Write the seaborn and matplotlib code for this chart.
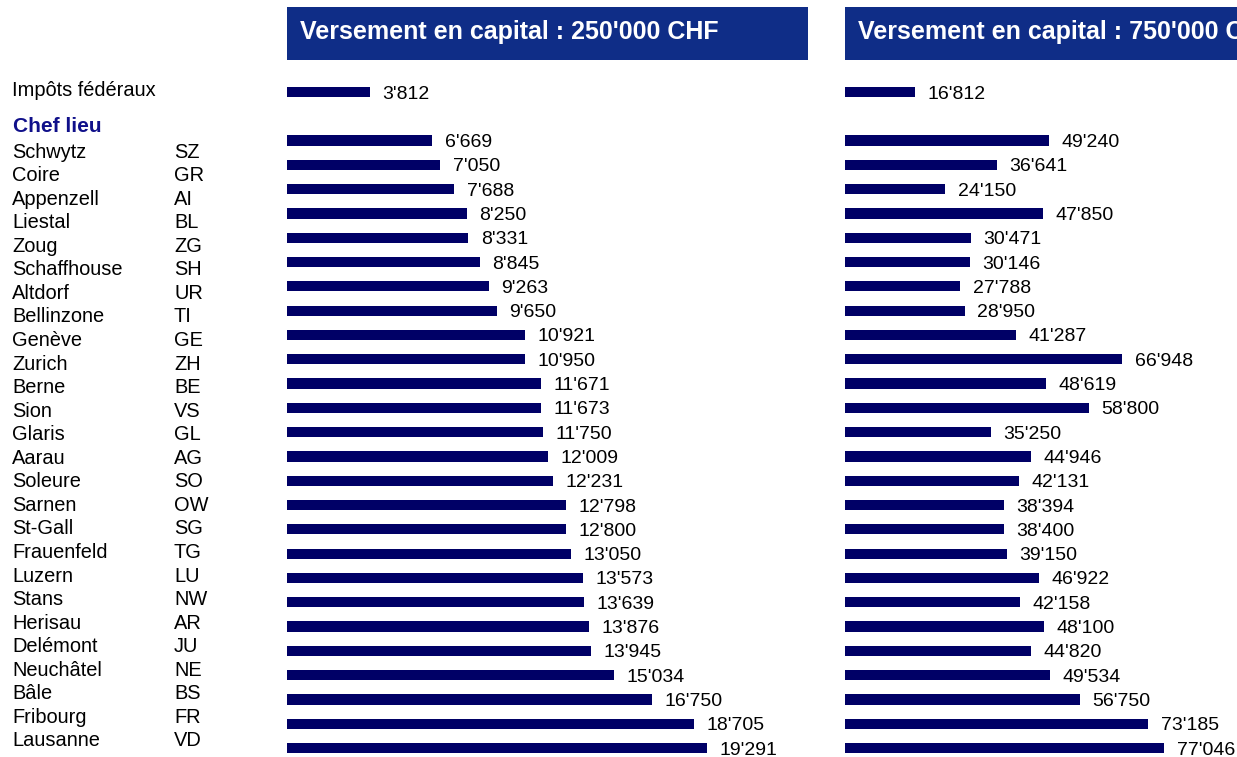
import numpy as np
import pandas as pd
import matplotlib
matplotlib.use("Agg")
import matplotlib.pyplot as plt
import seaborn as sns

# ==========================================================
# 1. DONNÉES
# ==========================================================
villes = ["Schwytz", "Coire", "Appenzell", "Liestal", "Zoug", "Schaffhouse",
          "Altdorf", "Bellinzone", "Genève", "Zurich", "Berne", "Sion", "Glaris",
          "Aarau", "Soleure", "Sarnen", "St-Gall", "Frauenfeld", "Luzern", "Stans",
          "Herisau", "Delémont", "Neuchâtel", "Bâle", "Fribourg", "Lausanne"]
cantons = ["SZ", "GR", "AI", "BL", "ZG", "SH", "UR", "TI", "GE", "ZH", "BE", "VS",
           "GL", "AG", "SO", "OW", "SG", "TG", "LU", "NW", "AR", "JU", "NE", "BS",
           "FR", "VD"]

federal_250 = 3812
federal_750 = 16812

impots_250 = [6669, 7050, 7688, 8250, 8331, 8845, 9263, 9650, 10921, 10950, 11671,
              11673, 11750, 12009, 12231, 12798, 12800, 13050, 13573, 13639, 13876,
              13945, 15034, 16750, 18705, 19291]
impots_750 = [49240, 36641, 24150, 47850, 30471, 30146, 27788, 28950, 41287, 66948,
              48619, 58800, 35250, 44946, 42131, 38394, 38400, 39150, 46922, 42158,
              48100, 44820, 49534, 56750, 73185, 77046]

titres = ["Versement en capital : 250'000 CHF", "Versement en capital : 750'000 CHF"]

# ==========================================================
# 2. STYLE
# ==========================================================
sns.set_theme(style="white")
plt.rcParams["font.family"] = ["Liberation Sans", "DejaVu Sans"]
plt.rcParams["text.color"] = "black"

COULEUR_BARRE = "#000066"
COULEUR_ENTETE = "#0F2D87"
COULEUR_CHEF = "#10108A"

W, H = 1237, 757
fig = plt.figure(figsize=(W / 100, H / 100), dpi=100)


def fx(px):
    return px / W


def fy(py):
    return 1 - py / H


# ==========================================================
# 3. LIBELLÉS À GAUCHE
# ==========================================================
fig.text(fx(12), fy(89), "Impôts fédéraux", fontsize=14.4, va="center_baseline", ha="left")
fig.text(fx(13), fy(125), "Chef lieu", fontsize=15, fontweight="bold",
         color=COULEUR_CHEF, va="center_baseline", ha="left")
pas = (739 - 150) / (len(villes) - 1)
for i, (v, c) in enumerate(zip(villes, cantons)):
    y = 150 + i * pas
    fig.text(fx(12), fy(y), v, fontsize=14.4, va="center_baseline", ha="left")
    fig.text(fx(174), fy(y), c, fontsize=14.4, va="center_baseline", ha="left")

# ==========================================================
# 4. PANNEAUX
# ==========================================================
ordre = ["Impôts fédéraux", " "] + villes
panneaux = [
    (287, 23930, [federal_250] + impots_250),
    (845, 125800, [federal_750] + impots_750),
]

for (x0, xmax, valeurs), titre in zip(panneaux, titres):
    df = pd.DataFrame({"lieu": ["Impôts fédéraux"] + villes, "valeur": valeurs})

    # position des barres : ligne 0 à y=92 px, pas de 24.3 px
    pas_b = (748 - 92) / 27
    haut, bas = 70, 757
    ax = fig.add_axes([fx(x0), fy(bas), 521 / W, (bas - haut) / H])
    sns.barplot(data=df, x="valeur", y="lieu", order=ordre, orient="h",
                color=COULEUR_BARRE, saturation=1, width=0.42, linewidth=0, ax=ax)
    ax.set_ylim((bas - 92) / pas_b, (haut - 92) / pas_b)
    ax.set_xlim(0, xmax)
    for cont in ax.containers:
        txts = ax.bar_label(cont, labels=[f"{v:,}".replace(",", "'") for v in valeurs],
                            padding=9, fontsize=14, color="black")
        for t in txts:
            t.set_va("center_baseline")
    ax.axis("off")

    # entête
    ah = fig.add_axes([fx(x0), fy(60), 521 / W, 53 / H])
    ah.set_facecolor(COULEUR_ENTETE)
    ah.set_xticks([])
    ah.set_yticks([])
    for s in ah.spines.values():
        s.set_visible(False)
    ah.text(13 / 521, 0.57, titre, transform=ah.transAxes, color="white",
            fontsize=18, fontweight="bold", va="center_baseline", ha="left")

fig.savefig("out.png", dpi=100)
